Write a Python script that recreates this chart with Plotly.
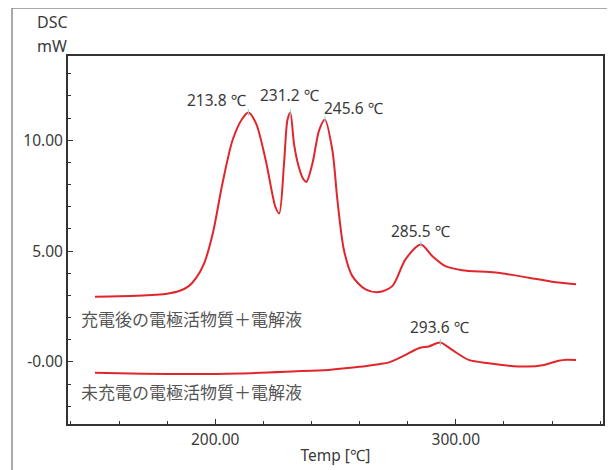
import plotly.graph_objects as go

# Upper curve: charged electrode active material + electrolyte
temp_charged = [150, 160, 170, 175, 180, 185, 189, 192, 195.4, 199, 203, 207.2, 211.3, 213.8,
                217, 221, 225, 226.6, 228.6, 230, 231.2, 232.8, 234.6, 236.6, 237.9, 240.4, 243.2,
                245.6, 248.7, 250.8, 253.5, 257, 262.5, 268, 273.6, 279.1, 285.5, 290.2,
                295.7, 302.6, 316.5, 330.3, 340, 350]
dsc_charged = [2.94, 2.96, 3.0, 3.03, 3.08, 3.2, 3.42, 3.78, 4.45, 5.8, 8.05, 10.0, 10.98, 11.25,
               10.75, 9.1, 7.0, 6.70, 8.95, 10.9, 11.25, 9.8, 8.85, 8.25, 8.12, 8.95, 10.45,
               10.93, 9.55, 7.3, 5.05, 3.87, 3.27, 3.15, 3.42, 4.63, 5.30, 4.78,
               4.32, 4.14, 4.03, 3.8, 3.62, 3.5]

# Lower curve: uncharged electrode active material + electrolyte
temp_uncharged = [150, 170, 190, 210, 232, 247, 260, 268, 272, 277.7, 284.6, 288.8, 293.6,
                  298.5, 305.4, 313.7, 322, 330, 336, 342.7, 346, 350]
dsc_uncharged = [-0.49, -0.53, -0.55, -0.52, -0.43, -0.36, -0.22, -0.1, -0.03, 0.24, 0.62,
                 0.70, 0.88, 0.54, 0.09, -0.06, -0.17, -0.21, -0.15, 0.05, 0.1, 0.09]

# Peaks
peak_temps = [213.8, 231.2, 245.6, 285.5, 293.6]
peak_vals = [11.25, 11.25, 10.93, 5.30, 0.88]
peak_labels = ["213.8 ℃", "231.2 ℃", "245.6 ℃", "285.5 ℃", "293.6 ℃"]

label_charged = "充電後の電極活物質＋電解液"
label_uncharged = "未充電の電極活物質＋電解液"

x_tickvals = [200, 300]
x_ticktext = ["200.00", "300.00"]
y_tickvals = [0, 5, 10]
y_ticktext = ["-0.00", "5.00", "10.00"]

FONT = "Noto Sans, Noto Sans CJK JP"
JFONT = "Noto Sans CJK JP"
RED = "#e0262b"
TXT = "#3a3a3a"

# plot area in page pixels
L, R, T, B = 68, 603, 56, 424
OFF = 8  # default page body margin


def px(x):
    return (x - L) / (R - L)


def py(y):
    return (B - y) / (B - T)


fig = go.Figure()
for xs, ys in [(temp_charged, dsc_charged), (temp_uncharged, dsc_uncharged)]:
    fig.add_trace(go.Scatter(x=xs, y=ys, mode="lines",
                             line=dict(color=RED, width=2, shape="spline", smoothing=0.8),
                             hoverinfo="skip", showlegend=False))

fig.add_trace(go.Scatter(x=peak_temps, y=peak_vals, mode="markers",
                         marker=dict(symbol="line-ns", size=5,
                                     line=dict(color="#8fd3e8", width=1)),
                         showlegend=False, hoverinfo="skip"))

anchors = [("right", 1, 0), ("center", 0, 5), ("left", -3, -1), ("center", 0, 0), ("center", 0, 2)]
for t, v, lab, (xa, xs, ys) in zip(peak_temps, peak_vals, peak_labels, anchors):
    fig.add_annotation(x=t, y=v, text=lab, showarrow=False, xanchor=xa, yanchor="bottom",
                       xshift=xs, yshift=ys, font=dict(family=FONT, size=15.5, color=TXT))

fig.add_annotation(xref="paper", yref="paper", x=px(79), y=py(318), text=label_charged,
                   showarrow=False, xanchor="left", yanchor="middle",
                   font=dict(family=JFONT, size=17, color="#555"))
fig.add_annotation(xref="paper", yref="paper", x=px(79), y=py(391), text=label_uncharged,
                   showarrow=False, xanchor="left", yanchor="middle",
                   font=dict(family=JFONT, size=17, color="#555"))

# Y axis unit label
fig.add_annotation(xref="paper", yref="paper", x=px(35), y=py(22),
                   text="DSC", showarrow=False, xanchor="left", yanchor="middle",
                   font=dict(family=FONT, size=16, color=TXT))
fig.add_annotation(xref="paper", yref="paper", x=px(35), y=py(46),
                   text="mW", showarrow=False, xanchor="left", yanchor="middle",
                   font=dict(family=FONT, size=16, color=TXT))

# outer frame lines
fig.add_shape(type="line", xref="paper", yref="paper",
              x0=px(12), x1=px(640), y0=py(8), y1=py(8),
              line=dict(color="#8c8c8c", width=1.5))
fig.add_shape(type="line", xref="paper", yref="paper",
              x0=px(12), x1=px(12), y0=py(8), y1=py(480),
              line=dict(color="#8c8c8c", width=1.5))

fig.update_layout(
    width=615, height=470,
    margin=dict(l=L - OFF, r=615 + OFF - R, t=T - OFF, b=470 + OFF - B),
    paper_bgcolor="white", plot_bgcolor="white",
    font=dict(family=FONT, size=15, color=TXT),
    xaxis=dict(range=[138.8, 361.2], showgrid=False, zeroline=False,
               showline=True, linecolor="#333", linewidth=2, mirror=True,
               tickmode="array", tickvals=x_tickvals, ticktext=x_ticktext,
               ticks="inside", ticklen=5, tickcolor="#333", tickwidth=1,
               minor=dict(tickmode="array", tickvals=[140, 160, 180, 220, 240, 260, 280, 320, 340, 360],
                          ticks="inside", ticklen=3, tickcolor="#333", tickwidth=1),
               title=dict(text="Temp [℃]", standoff=2, font=dict(size=15.5)),
               tickfont=dict(size=15.5)),
    yaxis=dict(range=[-2.8, 13.8], showgrid=False, zeroline=False,
               showline=True, linecolor="#333", linewidth=2, mirror=True,
               tickmode="array", tickvals=y_tickvals, ticktext=y_ticktext,
               ticks="inside", ticklen=5, tickcolor="#333", tickwidth=1,
               minor=dict(tickmode="array",
                          tickvals=[-2, -1, 1, 2, 3, 4, 6, 7, 8, 9, 11, 12, 13],
                          ticks="inside", ticklen=3, tickcolor="#333", tickwidth=1),
               tickfont=dict(size=15.5)),
)

fig.write_html("out.html")
